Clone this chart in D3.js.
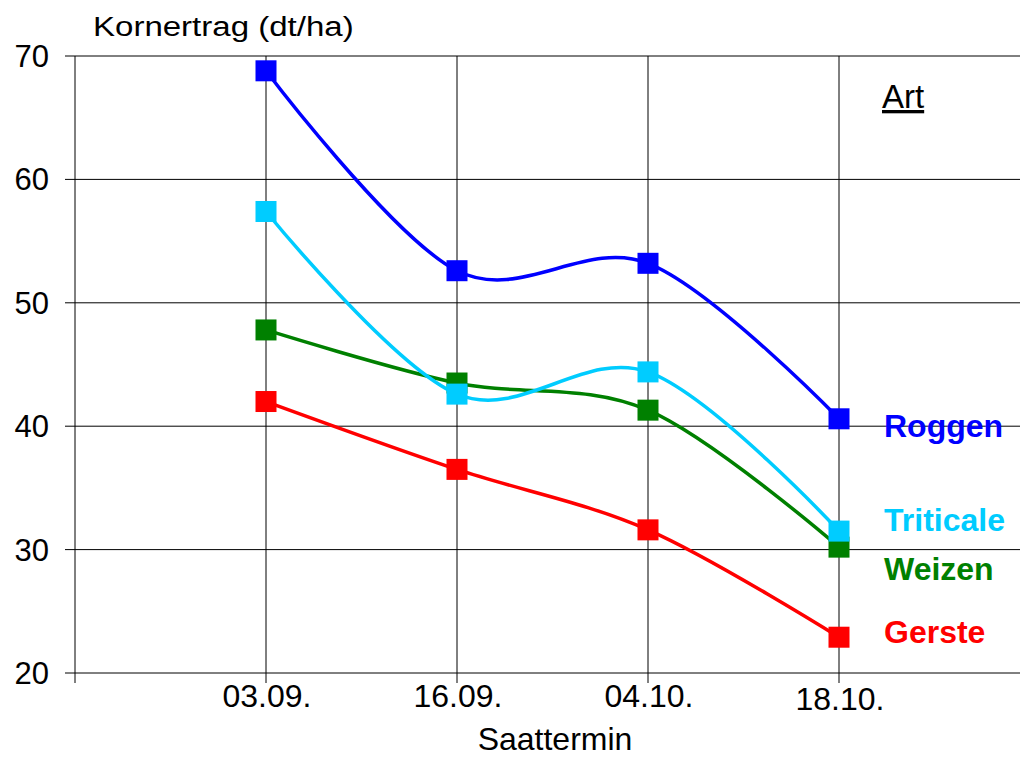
<!DOCTYPE html>
<html><head><meta charset="utf-8">
<script src="https://cdn.jsdelivr.net/npm/d3@7"></script>
<style>body{margin:0;background:#fff}svg{display:block}text{font-family:"Liberation Sans",Arial,sans-serif}</style>
</head><body>
<script>
const categories = ["03.09.", "16.09.", "04.10.", "18.10."];
const yTicks = [20, 30, 40, 50, 60, 70];
const seriesNames = ["Roggen", "Triticale", "Weizen", "Gerste"];
const roggen = [68.8, 52.6, 53.2, 40.6];
const triticale = [57.4, 42.6, 44.4, 31.5];
const weizen = [47.8, 43.5, 41.3, 30.2];
const gerste = [42.0, 36.5, 31.6, 22.9];
const colors = ["#0000ff", "#00ccff", "#008000", "#ff0000"];
const labelValues = [40.0, 32.4, 28.4, 23.3];

const W = 1022, H = 758;
const svg = d3.select("body").append("svg").attr("width", W).attr("height", H);
const x = d3.scaleLinear().domain([0, 5]).range([75, 1030]);
const y = d3.scaleLinear().domain([20, 70]).range([673, 56]);
const xRight = 1020;

// horizontal gridlines
svg.append("g").selectAll("line").data(yTicks).join("line")
  .attr("x1", 65).attr("x2", xRight)
  .attr("y1", d => y(d)).attr("y2", d => y(d))
  .attr("stroke", "#000").attr("stroke-width", 1);
// y tick labels
svg.append("g").selectAll("text").data(yTicks).join("text")
  .attr("x", 49).attr("y", d => y(d) + 11)
  .attr("text-anchor", "end").attr("font-size", 31).text(d => d);
// left axis line
svg.append("line").attr("x1", x(0)).attr("x2", x(0)).attr("y1", y(70)).attr("y2", y(20) + 10)
  .attr("stroke", "#000");
// vertical gridlines + ticks
svg.append("g").selectAll("line").data(categories).join("line")
  .attr("x1", (d, i) => x(i + 1)).attr("x2", (d, i) => x(i + 1))
  .attr("y1", y(70)).attr("y2", y(20) + 10)
  .attr("stroke", "#000").attr("stroke-width", 1);
// x labels
svg.append("g").selectAll("text").data(categories).join("text")
  .attr("x", (d, i) => x(i + 1) + 1).attr("y", (d, i) => i === 3 ? 710 : 707)
  .attr("text-anchor", "middle").attr("font-size", 32).text(d => d);

// titles
svg.append("text").attr("transform", "translate(93,36) scale(1.18,1)").attr("font-size", 28).text("Kornertrag (dt/ha)");
svg.append("text").attr("x", 555).attr("y", 750).attr("text-anchor", "middle").attr("font-size", 32).text("Saattermin");
svg.append("text").attr("x", 882).attr("y", 108).attr("font-size", 33)
  .attr("text-decoration", "underline").text("Art");

const allSeries = [roggen, triticale, weizen, gerste];
const line = d3.line().x((d, i) => x(i + 1)).y(d => y(d)).curve(d3.curveCardinal.tension(0));

// draw series bottom-to-top order: Gerste, Weizen, Triticale, Roggen
[3, 2, 1, 0].forEach(k => {
  const g = svg.append("g");
  g.append("path").datum(allSeries[k]).attr("d", line)
    .attr("fill", "none").attr("stroke", colors[k]).attr("stroke-width", 3.5);
  g.selectAll("rect").data(allSeries[k]).join("rect")
    .attr("x", (d, i) => x(i + 1) - 10.5).attr("y", d => y(d) - 10.5)
    .attr("width", 21).attr("height", 21).attr("fill", colors[k]);
});

// series labels
svg.append("g").selectAll("text").data(seriesNames).join("text")
  .attr("x", 884).attr("y", (d, i) => y(labelValues[i]) + 11)
  .attr("font-size", 32).attr("font-weight", "bold")
  .attr("fill", (d, i) => colors[i]).text(d => d);
</script>
</body></html>
